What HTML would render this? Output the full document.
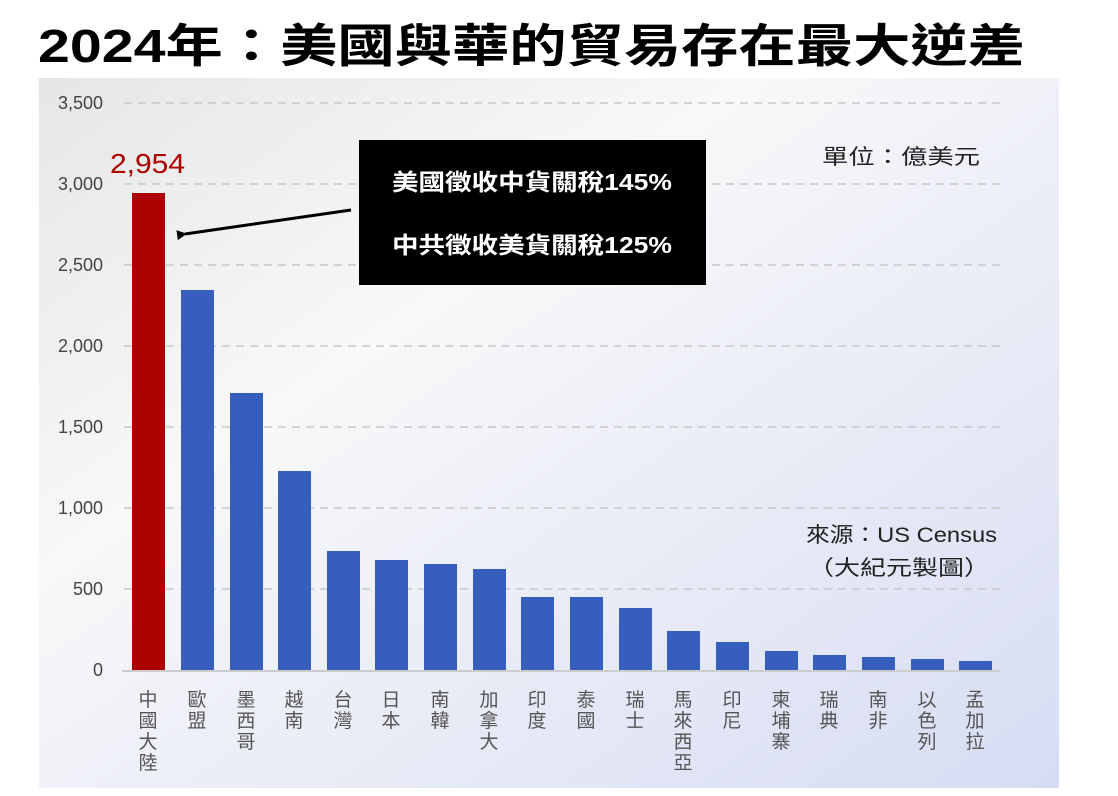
<!DOCTYPE html>
<html><head><meta charset="utf-8"><style>
body{margin:0;background:#fff;}
svg{display:block;font-family:"Liberation Sans","Noto Sans CJK TC",sans-serif;}
</style></head><body>
<svg width="1118" height="796" viewBox="0 0 1118 796">
<defs>
<linearGradient id="bg" x1="0" y1="0" x2="1" y2="1">
<stop offset="0" stop-color="#e6e6e6"/>
<stop offset="0.35" stop-color="#f8f8f9"/>
<stop offset="1" stop-color="#d6dcf3"/>
</linearGradient>
<marker id="ah" markerWidth="10" markerHeight="10" refX="2" refY="5" orient="auto" markerUnits="userSpaceOnUse">
<path d="M10,0 L0,5 L10,10 Z" fill="#000"/>
</marker>
</defs>
<text x="38" y="62" font-size="46" font-weight="bold" textLength="987" lengthAdjust="spacingAndGlyphs">2024年：美國與華的貿易存在最大逆差</text>
<rect x="39" y="78" width="1020" height="710" fill="url(#bg)"/>
<g stroke="#c8c8c8" stroke-width="1.5" stroke-dasharray="8,6">
<line x1="124" y1="103" x2="1000" y2="103"/>
<line x1="124" y1="184" x2="1000" y2="184"/>
<line x1="124" y1="265" x2="1000" y2="265"/>
<line x1="124" y1="346" x2="1000" y2="346"/>
<line x1="124" y1="427" x2="1000" y2="427"/>
<line x1="124" y1="508" x2="1000" y2="508"/>
<line x1="124" y1="589" x2="1000" y2="589"/>
</g>
<g font-size="18" fill="#444" text-anchor="end">
<text x="103" y="109">3,500</text>
<text x="103" y="190">3,000</text>
<text x="103" y="271">2,500</text>
<text x="103" y="352">2,000</text>
<text x="103" y="433">1,500</text>
<text x="103" y="514">1,000</text>
<text x="103" y="595">500</text>
<text x="103" y="676">0</text>
</g>
<rect x="132" y="193" width="33" height="477" fill="#ad0000"/>
<g fill="#365fbd">
<rect x="181" y="290" width="33" height="380"/>
<rect x="230" y="393" width="33" height="277"/>
<rect x="278" y="471" width="33" height="199"/>
<rect x="327" y="551" width="33" height="119"/>
<rect x="375" y="560" width="33" height="110"/>
<rect x="424" y="564" width="33" height="106"/>
<rect x="473" y="569" width="33" height="101"/>
<rect x="521" y="597" width="33" height="73"/>
<rect x="570" y="597" width="33" height="73"/>
<rect x="619" y="608" width="33" height="62"/>
<rect x="667" y="631" width="33" height="39"/>
<rect x="716" y="642" width="33" height="28"/>
<rect x="765" y="651" width="33" height="19"/>
<rect x="813" y="655" width="33" height="15"/>
<rect x="862" y="657" width="33" height="13"/>
<rect x="911" y="659" width="33" height="11"/>
<rect x="959" y="661" width="33" height="9"/>
</g>
<line x1="122" y1="671" x2="1000" y2="671" stroke="#ccc" stroke-width="2"/>
<text x="110" y="173" font-size="28" fill="#ad0000" textLength="75" lengthAdjust="spacingAndGlyphs">2,954</text>
<g font-size="19" fill="#555" text-anchor="middle">
<text x="148" y="706">中</text><text x="148" y="727">國</text><text x="148" y="748">大</text><text x="148" y="769">陸</text>
<text x="197" y="706">歐</text><text x="197" y="727">盟</text>
<text x="246" y="706">墨</text><text x="246" y="727">西</text><text x="246" y="748">哥</text>
<text x="294" y="706">越</text><text x="294" y="727">南</text>
<text x="343" y="706">台</text><text x="343" y="727">灣</text>
<text x="391" y="706">日</text><text x="391" y="727">本</text>
<text x="440" y="706">南</text><text x="440" y="727">韓</text>
<text x="489" y="706">加</text><text x="489" y="727">拿</text><text x="489" y="748">大</text>
<text x="537" y="706">印</text><text x="537" y="727">度</text>
<text x="586" y="706">泰</text><text x="586" y="727">國</text>
<text x="635" y="706">瑞</text><text x="635" y="727">士</text>
<text x="683" y="706">馬</text><text x="683" y="727">來</text><text x="683" y="748">西</text><text x="683" y="769">亞</text>
<text x="732" y="706">印</text><text x="732" y="727">尼</text>
<text x="781" y="706">柬</text><text x="781" y="727">埔</text><text x="781" y="748">寨</text>
<text x="829" y="706">瑞</text><text x="829" y="727">典</text>
<text x="878" y="706">南</text><text x="878" y="727">非</text>
<text x="927" y="706">以</text><text x="927" y="727">色</text><text x="927" y="748">列</text>
<text x="975" y="706">孟</text><text x="975" y="727">加</text><text x="975" y="748">拉</text>
</g>
<rect x="359" y="140" width="347" height="145" fill="#000"/>
<g fill="#fff" font-size="23" font-weight="bold">
<text x="392" y="190" textLength="280" lengthAdjust="spacingAndGlyphs">美國徵收中貨關稅145%</text>
<text x="392" y="253" textLength="280" lengthAdjust="spacingAndGlyphs">中共徵收美貨關稅125%</text>
</g>
<line x1="351" y1="210" x2="185" y2="234" stroke="#000" stroke-width="3" marker-end="url(#ah)"/>
<text x="822" y="164" font-size="21" fill="#222" textLength="158" lengthAdjust="spacingAndGlyphs">單位：億美元</text>
<text x="806" y="542" font-size="21" fill="#222" textLength="191" lengthAdjust="spacingAndGlyphs">來源：US Census</text>
<text x="808" y="575" font-size="21" fill="#222" textLength="182" lengthAdjust="spacingAndGlyphs">（大紀元製圖）</text>
</svg>
</body></html>
